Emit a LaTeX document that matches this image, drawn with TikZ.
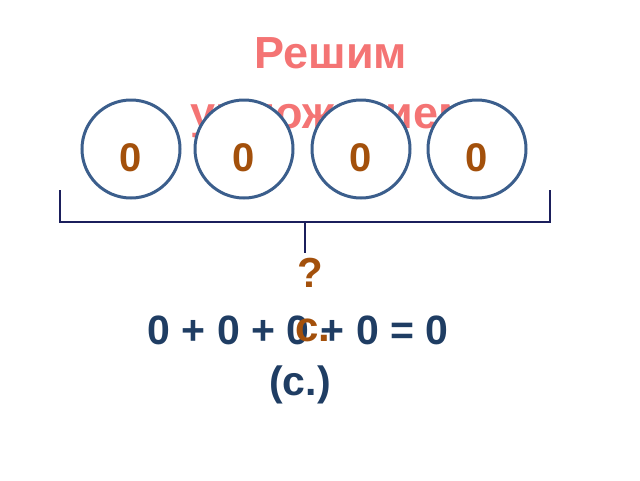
\documentclass[tikz,border=0pt]{standalone}
\usepackage{fontspec}
\setmainfont{Liberation Sans}
\definecolor{titlecol}{HTML}{F47474}
\definecolor{ringcol}{HTML}{3B5E8C}
\definecolor{digitcol}{HTML}{A3500B}
\definecolor{bracketcol}{HTML}{1B1F5C}
\definecolor{eqcol}{HTML}{1F3D63}
\tikzset{
  ring/.style={circle, draw=ringcol, line width=3pt, fill=white, minimum size=98pt, inner sep=0pt},
  digit/.style={text=digitcol, font=\fontsize{40}{48}\selectfont\bfseries, inner sep=0pt},
  titletext/.style={text=titlecol, font=\fontsize{45}{54}\selectfont\bfseries, inner sep=0pt, anchor=base},
  eqtext/.style={text=eqcol, font=\fontsize{41}{49}\selectfont\bfseries, inner sep=0pt},
  bracket/.style={draw=bracketcol, line width=2pt}
}
\begin{document}
\begin{tikzpicture}[x=1pt,y=-1pt]
\useasboundingbox (0,0) rectangle (640,480);
\node[titletext] (t1) at (331,68) {Решим};
\node[titletext] (t2) at (331,128) {умножением};
\node[ring] (c1) at (131,149) {};
\node[ring] (c2) at (244,149) {};
\node[ring] (c3) at (361,149) {};
\node[ring] (c4) at (477,149) {};
\node[digit] (d1) at (131,158) {0};
\node[digit] (d2) at (244,158) {0};
\node[digit] (d3) at (361,158) {0};
\node[digit] (d4) at (477,158) {0};
\coordinate (bl) at (60,190);
\coordinate (blb) at (60,222);
\coordinate (brb) at (550,222);
\coordinate (br) at (550,190);
\coordinate (tm) at (305,222);
\coordinate (tb) at (305,253);
\draw[bracket] (bl) -- (blb) -- (brb) -- (br);
\draw[bracket] (tm) -- (tb);
\node[eqtext] (eq) at (298,330) {0 + 0 + 0 + 0 = 0};
\node[eqtext] (unit) at (300,385) {(с.)};
\node[digit, font=\fontsize{42}{50}\selectfont\bfseries] (q) at (310,273) {?};
\node[digit, font=\fontsize{42}{50}\selectfont\bfseries] (s) at (313,330) {с.};
\end{tikzpicture}
\end{document}
